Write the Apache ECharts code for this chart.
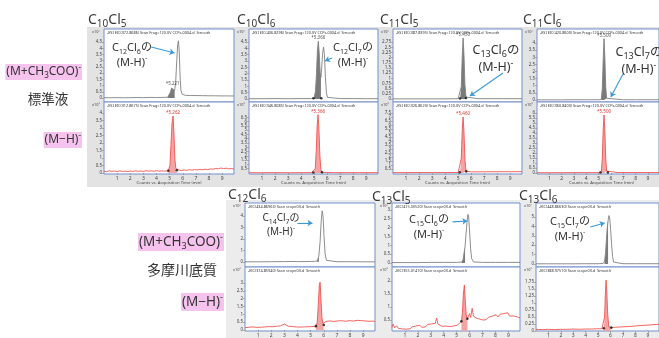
<!DOCTYPE html>
<html><head><meta charset="utf-8">
<script src="https://cdn.jsdelivr.net/npm/echarts@6/dist/echarts.min.js"></script>
<style>html,body{margin:0;padding:0;background:#fff}#c{width:659px;height:338px}</style>
</head><body><div id="c"></div>
<script>
// ---------------- DATA ----------------
const xTickLabels = [1,2,3,4,5,6,7,8,9];
const rowTitles = ['C10Cl5','C10Cl6','C11Cl5','C11Cl6','C12Cl6','C13Cl5','C13Cl6'];
const targetIons = ['C12Cl6','C12Cl7','C13Cl6','C13Cl7','C14Cl7','C15Cl6','C15Cl7'];

const p1tTicks=[0,0.5,1,1.5,2,2.5,3,3.5,4,4.5];
const p1bTicks=[0,0.5,1,1.5,2,2.5,3,3.5,4];
const p2tTicks=[0,0.5,1,1.5,2,2.5,3,3.5,4,4.5];
const p2bTicks=[0,0.5,1,1.5,2,2.5,3,3.5,4,4.5,5,5.5,6,6.5,7];
const p3tTicks=[0,0.25,0.5,0.75,1,1.25,1.5,1.75,2,2.25,2.5,2.75];
const p3bTicks=[0,0.5,1,1.5,2,2.5,3,3.5,4,4.5,5,5.5,6,6.5,7,7.5,8];
const p4tTicks=[0,0.5,1,1.5,2,2.5,3,3.5,4];
const p4bTicks=[0,0.5,1,1.5,2,2.5,3,3.5,4,4.5,5,5.5,6];
const p5tTicks=[0,1,2,3,4];
const p5bTicks=[0,0.5,1,1.5,2,2.5,3];
const p6tTicks=[0,0.5,1,1.5,2,2.5,3];
const p6bTicks=[0.5,1,1.5,2];
const p7tTicks=[0,1,2,3,4,5];
const p7bTicks=[0,0.25,0.5,0.75,1,1.25,1.5,1.75];

const p1tTrace=[[0,0.03],[0.5,0.02],[1,0.03],[1.5,0.02],[2,0.03],[2.5,0.04],[3,0.03],[3.5,0.05],[4,0.04],[4.5,0.05],[4.85,0.06],[4.95,0.15],[5.05,0.45],[5.15,0.8],[5.23,0.9],[5.3,0.7],[5.38,0.6],[5.46,1.3],[5.54,3.0],[5.61,4.3],[5.67,4.6],[5.73,3.7],[5.8,1.6],[5.86,0.6],[5.95,0.3],[6.2,0.22],[6.6,0.2],[7,0.2],[7.5,0.19],[8,0.18],[8.5,0.18],[9,0.17],[9.5,0.17],[9.9,0.16]];
const p1tFill=[4.85,5.42];
const p1tPeak=['*5.221',5.23,0.9];
const p1bTrace=[[0,0.12],[0.2,0.08],[0.4,0.15],[0.6,0.1],[0.8,0.13],[1,0.09],[1.2,0.14],[1.4,0.1],[1.6,0.12],[1.8,0.09],[2,0.13],[2.2,0.1],[2.4,0.14],[2.6,0.11],[2.8,0.13],[3,0.1],[3.2,0.15],[3.4,0.12],[3.6,0.14],[3.8,0.11],[4,0.15],[4.2,0.12],[4.4,0.14],[4.6,0.12],[4.75,0.14],[4.9,0.15],[5.02,0.5],[5.1,1.9],[5.18,3.3],[5.26,3.8],[5.33,2.6],[5.4,0.9],[5.47,0.3],[5.55,0.18],[5.7,0.2],[5.9,0.16],[6.1,0.2],[6.3,0.17],[6.5,0.22],[6.7,0.18],[6.9,0.23],[7.1,0.2],[7.3,0.24],[7.5,0.21],[7.7,0.25],[7.9,0.22],[8.1,0.27],[8.3,0.25],[8.5,0.3],[8.7,0.27],[8.9,0.33],[9.1,0.29],[9.3,0.32],[9.5,0.27],[9.7,0.3],[9.9,0.26]];
const p1bFill=[4.9,5.55];
const p1bDots=[[4.9,0.15],[5.55,0.18]];
const p1bPeak=['*5.262',5.26,3.8];

const p2tTrace=[[0,0.02],[1,0.02],[2,0.03],[3,0.02],[4,0.03],[4.8,0.03],[5.0,0.08],[5.1,0.6],[5.18,2.0],[5.25,3.8],[5.32,4.55],[5.39,3.6],[5.46,2.1],[5.52,1.7],[5.58,2.5],[5.65,3.6],[5.72,4.1],[5.79,3.5],[5.86,1.8],[5.94,0.5],[6.02,0.12],[6.15,0.04],[7,0.03],[8,0.03],[9,0.02],[9.9,0.02]];
const p2tFill=[5.0,5.52];
const p2tDots=[[4.95,0.05],[5.55,0.05]];
const p2tPeak=['*5.366',5.32,4.55];
const p2bTrace=[[0,0.03],[1,0.03],[2,0.04],[3,0.03],[4,0.04],[4.8,0.04],[4.95,0.06],[5.08,0.5],[5.16,2.5],[5.23,5.5],[5.3,6.8],[5.37,5.0],[5.44,2.0],[5.52,0.4],[5.6,0.08],[5.7,0.05],[6.5,0.04],[7.5,0.04],[8.5,0.04],[9.9,0.04]];
const p2bFill=[4.95,5.6];
const p2bDots=[[4.93,0.05],[5.6,0.08]];
const p2bPeak=['*5.366',5.3,6.8];

const p3tTrace=[[0,0.01],[1,0.01],[2,0.01],[3,0.01],[4,0.01],[5,0.02],[5.15,0.05],[5.24,0.6],[5.31,2.0],[5.38,2.95],[5.45,2.1],[5.52,0.7],[5.6,0.1],[5.7,0.03],[6.5,0.02],[7.5,0.02],[8.5,0.02],[9.9,0.02]];
const p3tFill=[5.15,5.6];
const p3tDots=[[5.14,0.03],[5.6,0.05]];
const p3tPeak=['*5.450',5.38,2.95];
const p3bTrace=[[0,0.05],[1,0.05],[2,0.06],[3,0.05],[4,0.06],[5,0.06],[5.15,0.15],[5.24,1.8],[5.31,5.2],[5.38,7.0],[5.45,5.0],[5.52,1.7],[5.6,0.25],[5.7,0.12],[6,0.14],[7,0.15],[8,0.16],[9,0.16],[9.9,0.17]];
const p3bFill=[5.15,5.6];
const p3bDots=[[5.12,0.08],[5.62,0.2]];
const p3bPeak=['*5.460',5.38,7.0];

const p4tTrace=[[0,0.01],[1,0.01],[2,0.01],[3,0.02],[4,0.02],[5,0.02],[5.22,0.05],[5.3,0.8],[5.37,2.8],[5.44,4.3],[5.51,2.9],[5.58,0.9],[5.65,0.12],[5.75,0.03],[7,0.02],[8,0.02],[9.9,0.02]];
const p4tFill=[5.22,5.65];
const p4tPeak=['*5.500',5.44,4.3];
const p4bTrace=[[0,0.03],[1,0.03],[2,0.03],[3,0.04],[4,0.04],[5,0.04],[5.22,0.1],[5.3,1.5],[5.37,4.3],[5.44,5.8],[5.51,4.1],[5.58,1.4],[5.65,0.2],[5.75,0.06],[6.5,0.05],[8,0.05],[9.9,0.05]];
const p4bFill=[5.15,5.75];
const p4bDots=[[5.15,0.05],[5.75,0.06]];
const p4bPeak=['*5.500',5.44,5.8];

const p5tTrace=[[0,0.02],[1,0.02],[2,0.03],[3,0.04],[3.5,0.05],[4,0.04],[4.5,0.04],[5,0.05],[5.3,0.06],[5.5,0.1],[5.62,0.5],[5.72,1.8],[5.8,3.5],[5.88,4.45],[5.95,3.9],[6.02,2.2],[6.1,0.7],[6.2,0.15],[6.35,0.05],[7,0.03],[8,0.03],[9,0.02],[9.9,0.02]];
const p5tFill=[5.5,5.64];
const p5bTrace=[[0,0.15],[0.15,0.1],[0.3,0.18],[0.45,0.12],[0.6,0.2],[0.75,0.14],[0.9,0.17],[1.05,0.11],[1.2,0.18],[1.35,0.13],[1.5,0.2],[1.65,0.15],[1.8,0.22],[1.95,0.16],[2.1,0.21],[2.25,0.17],[2.4,0.24],[2.55,0.2],[2.7,0.27],[2.85,0.34],[3,0.38],[3.15,0.3],[3.3,0.25],[3.45,0.29],[3.6,0.22],[3.75,0.26],[3.9,0.2],[4.05,0.25],[4.2,0.19],[4.35,0.24],[4.5,0.2],[4.65,0.26],[4.8,0.21],[4.95,0.25],[5.1,0.22],[5.25,0.27],[5.4,0.25],[5.5,0.5],[5.58,1.6],[5.66,2.9],[5.72,3.05],[5.78,2.0],[5.86,0.8],[5.94,0.4],[6.0,0.32],[6.08,0.45],[6.15,0.55],[6.3,0.5],[6.45,0.58],[6.6,0.48],[6.75,0.55],[6.9,0.5],[7.05,0.58],[7.2,0.52],[7.35,0.6],[7.5,0.48],[7.65,0.56],[7.8,0.5],[7.95,0.6],[8.1,0.52],[8.25,0.58],[8.4,0.5],[8.55,0.62],[8.7,0.55],[8.85,0.6],[9,0.52],[9.15,0.58],[9.3,0.5],[9.45,0.56],[9.6,0.52],[9.75,0.57],[9.9,0.55]];
const p5bFill=[5.4,6.0];
const p5bDots=[[5.4,0.25],[6.0,0.32]];

const p6tTrace=[[0,0.02],[1,0.02],[2,0.02],[3,0.03],[4,0.03],[5,0.03],[5.4,0.05],[5.5,0.2],[5.58,0.6],[5.65,0.9],[5.72,1.6],[5.8,2.3],[5.87,2.75],[5.93,2.6],[6.0,1.8],[6.08,0.8],[6.16,0.25],[6.3,0.06],[7,0.03],[8,0.03],[9,0.03],[9.9,0.03]];
const p6tFill=[5.4,5.68];
const p6bTrace=[[0,0.22],[0.1,0.35],[0.2,0.2],[0.35,0.28],[0.5,0.18],[0.65,0.25],[0.8,0.16],[0.95,0.22],[1.1,0.15],[1.25,0.2],[1.4,0.16],[1.55,0.24],[1.7,0.18],[1.85,0.27],[2.0,0.2],[2.15,0.3],[2.3,0.22],[2.45,0.28],[2.6,0.24],[2.75,0.33],[2.9,0.26],[3.05,0.35],[3.2,0.28],[3.35,0.38],[3.45,0.58],[3.55,0.35],[3.7,0.3],[3.85,0.26],[4.0,0.33],[4.15,0.27],[4.3,0.3],[4.45,0.25],[4.6,0.31],[4.75,0.27],[4.9,0.33],[5.05,0.3],[5.2,0.38],[5.37,0.45],[5.45,0.8],[5.52,1.5],[5.6,1.85],[5.66,1.3],[5.74,0.7],[5.83,0.55],[5.92,0.62],[6.0,0.75],[6.08,0.6],[6.2,0.95],[6.3,0.65],[6.4,0.72],[6.5,0.58],[6.6,0.65],[6.7,0.55],[6.8,0.6],[6.9,0.52],[7.0,0.58],[7.1,0.5],[7.2,0.56],[7.3,0.52],[7.45,0.6],[7.6,0.55],[7.75,0.65],[7.9,0.6],[8.05,0.7],[8.2,0.62],[8.35,0.72],[8.5,0.66],[8.65,0.75],[8.8,0.68],[8.95,0.78],[9.1,0.65],[9.25,0.72],[9.4,0.66],[9.55,0.7],[9.7,0.62],[9.9,0.58]];
const p6bFill=[5.37,5.83];
const p6bDots=[[5.37,0.45],[5.83,0.55]];

const p7tTrace=[[0,0.02],[1,0.02],[2,0.02],[3,0.02],[4,0.03],[5,0.03],[5.4,0.05],[5.52,0.3],[5.6,1.2],[5.67,2.6],[5.73,3.8],[5.8,4.6],[5.87,5.15],[5.93,4.9],[6.0,3.8],[6.08,2.2],[6.16,0.8],[6.25,0.2],[6.4,0.06],[7,0.03],[8,0.03],[9,0.03],[9.9,0.03]];
const p7tFill=[5.45,5.8];
const p7bTrace=[[0,0.06],[0.5,0.05],[1,0.06],[1.5,0.05],[2,0.06],[2.5,0.06],[3,0.07],[3.5,0.06],[4,0.07],[4.5,0.07],[5,0.08],[5.3,0.08],[5.45,0.1],[5.52,0.5],[5.58,1.3],[5.64,1.82],[5.7,1.4],[5.77,0.6],[5.85,0.2],[5.95,0.12],[6.06,0.12],[6.3,0.13],[6.6,0.14],[7,0.15],[7.5,0.16],[8,0.18],[8.5,0.2],[9,0.21],[9.5,0.23],[9.9,0.24]];
const p7bFill=[5.45,6.06];
const p7bDots=[[5.45,0.1],[6.06,0.12]];

const headersTop=['-ESI EIC(372.8686) Scan Frag=120.0V CCPs-0004.d  Smooth','-ESI EIC(406.8296) Scan Frag=120.0V CCPs-0004.d  Smooth','-ESI EIC(387.8395) Scan Frag=120.0V CCPs-0004.d  Smooth','-ESI EIC(420.8600) Scan Frag=120.0V CCPs-0004.d  Smooth','-EIC(434.86963) Scan scope03.d  Smooth','-EIC(415.03520) Scan scope03.d  Smooth','-EIC(448.86630) Scan scope03.d  Smooth'];
const headersBot=['-ESI EIC(312.8675) Scan Frag=120.0V CCPs-0004.d  Smooth','-ESI EIC(346.8085) Scan Frag=120.0V CCPs-0004.d  Smooth','-ESI EIC(326.8620) Scan Frag=120.0V CCPs-0004.d  Smooth','-ESI EIC(360.8400) Scan Frag=120.0V CCPs-0004.d  Smooth','-EIC(374.85940) Scan scope03.d  Smooth','-EIC(355.01410) Scan scope03.d  Smooth','-EIC(388.97510) Scan scope03.d  Smooth'];

// ---------------- LAYOUT ----------------
const F='"Noto Sans","Noto Sans CJK JP",sans-serif';
const GRAYL='#808080', GRAYF='#7a7a7a', REDL='#f0544e', REDF='#f5a3a3';
const XMAX=9.9;
const subs=[
 {L:104,T:29,W:130,H:73, min:-0.32,max:5.55, ticks:p1tTicks, tr:p1tTrace, fill:p1tFill, dots:[], peak:p1tPeak, red:false, showX:false, arrow:[[3.6,4.1],[5.37,3.62]]},
 {L:104,T:102,W:130,H:72, min:-0.07,max:4.73, ticks:p1bTicks, tr:p1bTrace, fill:p1bFill, dots:p1bDots, peak:p1bPeak, red:true, showX:true},
 {L:249,T:29,W:129,H:73, min:-0.24,max:5.52, ticks:p2tTicks, tr:p2tTrace, fill:p2tFill, dots:p2tDots, peak:p2tPeak, red:false, showX:false, arrow:[[6.37,3.24],[5.83,3.0]]},
 {L:249,T:102,W:129,H:72, min:-0.12,max:8.28, ticks:p2bTicks, tr:p2bTrace, fill:p2bFill, dots:p2bDots, peak:p2bPeak, red:true, showX:true},
 {L:393,T:29,W:129,H:73, min:-0.14,max:3.38, ticks:p3tTicks, tr:p3tTrace, fill:p3tFill, dots:p3tDots, peak:p3tPeak, red:false, showX:false, arrow:[[8.44,1.26],[5.9,0.15]]},
 {L:393,T:102,W:129,H:72, min:-0.125,max:8.875, ticks:p3bTicks, tr:p3bTrace, fill:p3bFill, dots:p3bDots, peak:p3bPeak, red:true, showX:true},
 {L:537,T:29,W:129,H:73, min:-0.14,max:4.98, ticks:p4tTicks, tr:p4tTrace, fill:p4tFill, dots:[], peak:p4tPeak, red:false, showX:false, arrow:[[6.98,1.82],[5.99,0.21]]},
 {L:537,T:102,W:129,H:72, min:-0.1,max:7.1, ticks:p4bTicks, tr:p4bTrace, fill:p4bFill, dots:p4bDots, peak:p4bPeak, red:true, showX:true},
 {L:245,T:203,W:130,H:64, min:-0.43,max:5.13, ticks:p5tTicks, tr:p5tTrace, fill:p5tFill, dots:[], red:false, showX:false, arrow:[[3.99,3.39],[5.14,3.39]]},
 {L:245,T:267,W:130,H:64, min:-0.06,max:4.02, ticks:p5bTicks, tr:p5bTrace, fill:p5bFill, dots:p5bDots, red:true, showX:true},
 {L:392,T:203,W:128,H:64, min:-0.23,max:3.39, ticks:p6tTicks, tr:p6tTrace, fill:p6tFill, dots:[], red:false, showX:false, arrow:[[4.68,2.32],[5.83,2.37]]},
 {L:392,T:267,W:128,H:64, min:0.08,max:2.54, ticks:p6bTicks, tr:p6bTrace, fill:p6bFill, dots:p6bDots, red:true, showX:true},
 {L:536,T:203,W:129,H:64, min:-0.32,max:6.49, ticks:p7tTicks, tr:p7tTrace, fill:p7tFill, dots:[], red:false, showX:false, arrow:[[4.37,3.94],[5.53,4.36]]},
 {L:536,T:267,W:129,H:64, min:0,max:2.29, ticks:p7bTicks, tr:p7bTrace, fill:p7bFill, dots:p7bDots, red:true, showX:true}
];

function rich(f,color){
  color=color||'#333';
  const lh=Math.round(f*1.35), sf=Math.round(f*0.68);
  return {
    n:{fontSize:f,lineHeight:lh,fontFamily:F,fill:color,color:color,verticalAlign:'middle'},
    s:{fontSize:sf,lineHeight:sf,fontFamily:F,fill:color,color:color,verticalAlign:'bottom'},
    p:{fontSize:sf,lineHeight:sf,fontFamily:F,fill:color,color:color,verticalAlign:'top'}
  };
}
function formula(str){ // 'C12Cl6' -> rich markup with subscripts
  return str.replace(/([A-Za-z]+)(\d+)/g,'{n|$1}{s|$2}');
}

const grids=[],xAxes=[],yAxes=[],series=[],graphic=[];
// backgrounds
graphic.push({type:'rect',z:-5,shape:{x:87,y:27,width:572,height:160},style:{fill:'#e3e3e3'}});
graphic.push({type:'rect',z:-5,shape:{x:226,y:200,width:433,height:138},style:{fill:'#ececec'}});

subs.forEach((s,i)=>{
  grids.push({left:s.L,top:s.T,width:s.W,height:s.H,show:true,backgroundColor:'#fff',borderColor:'#7190cc',borderWidth:1});
  xAxes.push({gridIndex:i,type:'value',min:0,max:XMAX,interval:1,
    axisLine:{show:false},splitLine:{show:false},
    axisTick:{show:s.showX,length:2,lineStyle:{color:'#888',width:0.6}},
    axisLabel:{show:s.showX,fontSize:5,color:'#444',margin:2,showMinLabel:false,showMaxLabel:false,fontFamily:F,
      formatter:v=>xTickLabels.includes(v)?String(v):''}});
  yAxes.push({gridIndex:i,type:'value',min:s.min,max:s.max,
    axisLine:{show:false},splitLine:{show:false},
    axisTick:{show:true,length:2,customValues:s.ticks,lineStyle:{color:'#888',width:0.6}},
    axisLabel:{fontSize:4.5,color:'#444',margin:2,customValues:s.ticks,fontFamily:F,formatter:v=>String(v)}});
  const lc=s.red?REDL:GRAYL, fc=s.red?REDF:GRAYF;
  const main={type:'line',xAxisIndex:i,yAxisIndex:i,data:s.tr,symbol:'none',silent:true,z:4,
    lineStyle:{color:lc,width:0.9}};
  if(s.peak){
    main.markPoint={symbol:'circle',symbolSize:0.1,silent:true,itemStyle:{color:'rgba(0,0,0,0)'},
      data:[{name:s.peak[0],coord:[s.peak[1],s.peak[2]]}],
      label:{show:true,position:'top',distance:1,formatter:'{b}',fontSize:4.5,color:s.red?'#e03030':'#555',fontFamily:F}};
  }
  if(s.arrow){
    main.markLine={symbol:['none','arrow'],symbolSize:5,silent:true,animation:false,
      lineStyle:{color:'#3a9ad9',width:1.1,type:'solid'},label:{show:false},
      data:[[{coord:s.arrow[0]},{coord:s.arrow[1]}]]};
  }
  series.push(main);
  const fd=s.tr.filter(p=>p[0]>=s.fill[0]&&p[0]<=s.fill[1]);
  series.push({type:'line',xAxisIndex:i,yAxisIndex:i,data:fd,symbol:'none',silent:true,z:3,
    lineStyle:{width:0},areaStyle:{color:fc,opacity:1}});
  if(s.dots.length){
    series.push({type:'scatter',xAxisIndex:i,yAxisIndex:i,data:s.dots,symbolSize:2.6,silent:true,z:5,itemStyle:{color:'#111'}});
  }
  // header text and multiplier
  const panel=Math.floor(i/2), top=(i%2===0);
  graphic.push({type:'text',z:50,x:s.L+3,y:s.T+2,style:{text:top?headersTop[panel]:headersBot[panel],fontSize:3.8,fill:'#333',fontFamily:F}});
  graphic.push({type:'text',z:50,x:s.L-12,y:s.T+1,style:{text:top?'x10⁵':'x10⁴',fontSize:3.8,fill:'#444',fontFamily:F}});
  if(!top && s.T<200){
    graphic.push({type:'text',z:50,x:s.L+s.W/2,y:181,style:{text:'Counts vs. Acquisition Time (min)',fontSize:4.2,fill:'#444',fontFamily:F,align:'center'}});
  }
});

// titles
const titlePos=[[88,20],[237,20],[380,20],[523,20],[228,195],[372,197],[519,196]];
rowTitles.forEach((t,k)=>{
  graphic.push({type:'text',z:60,x:titlePos[k][0],y:titlePos[k][1],
    style:{text:formula(t),rich:rich(14,'#3a3a3a'),align:'left',verticalAlign:'middle'}});
});
// annotations
const annPos=[[132,55,11],[353,55,11],[496,59,12.5],[639,61,12.5],[281,225,10],[429,227,11],[570,229,11]];
targetIons.forEach((t,k)=>{
  graphic.push({type:'text',z:60,x:annPos[k][0],y:annPos[k][1],
    style:{text:formula(t)+'{n|の}\n{n|(M-H)}{p|-}',rich:rich(annPos[k][2]),align:'center',verticalAlign:'middle'}});
});
// left labels
const PINK='#f6c3ef';
function leftLabel(x,y,text,f,bg){
  graphic.push({type:'text',z:60,x:x,y:y,style:{text:text,rich:rich(f),align:'right',verticalAlign:'middle',
    backgroundColor:bg||undefined,padding:bg?[0,1,0,1]:0}});
}
leftLabel(82,72,'{n|(M+CH}{s|3}{n|COO)}{p|-}',12,PINK);
graphic.push({type:'text',z:60,x:48,y:100,style:{text:'標準液',fontSize:13.5,fill:'#333',fontFamily:F,align:'center',verticalAlign:'middle'}});
leftLabel(82,140,'{n|(M−H)}{p|-}',12,PINK);
leftLabel(224,242,'{n|(M+CH}{s|3}{n|COO)}{p|-}',13.5,PINK);
graphic.push({type:'text',z:60,x:182,y:271,style:{text:'多摩川底質',fontSize:14,fill:'#333',fontFamily:F,align:'center',verticalAlign:'middle'}});
leftLabel(224,302,'{n|(M−H)}{p|-}',13.5,PINK);

const chart=echarts.init(document.getElementById('c'),null,{renderer:'canvas'});
chart.setOption({animation:false,grid:grids,xAxis:xAxes,yAxis:yAxes,series:series,graphic:graphic});
</script></body></html>
